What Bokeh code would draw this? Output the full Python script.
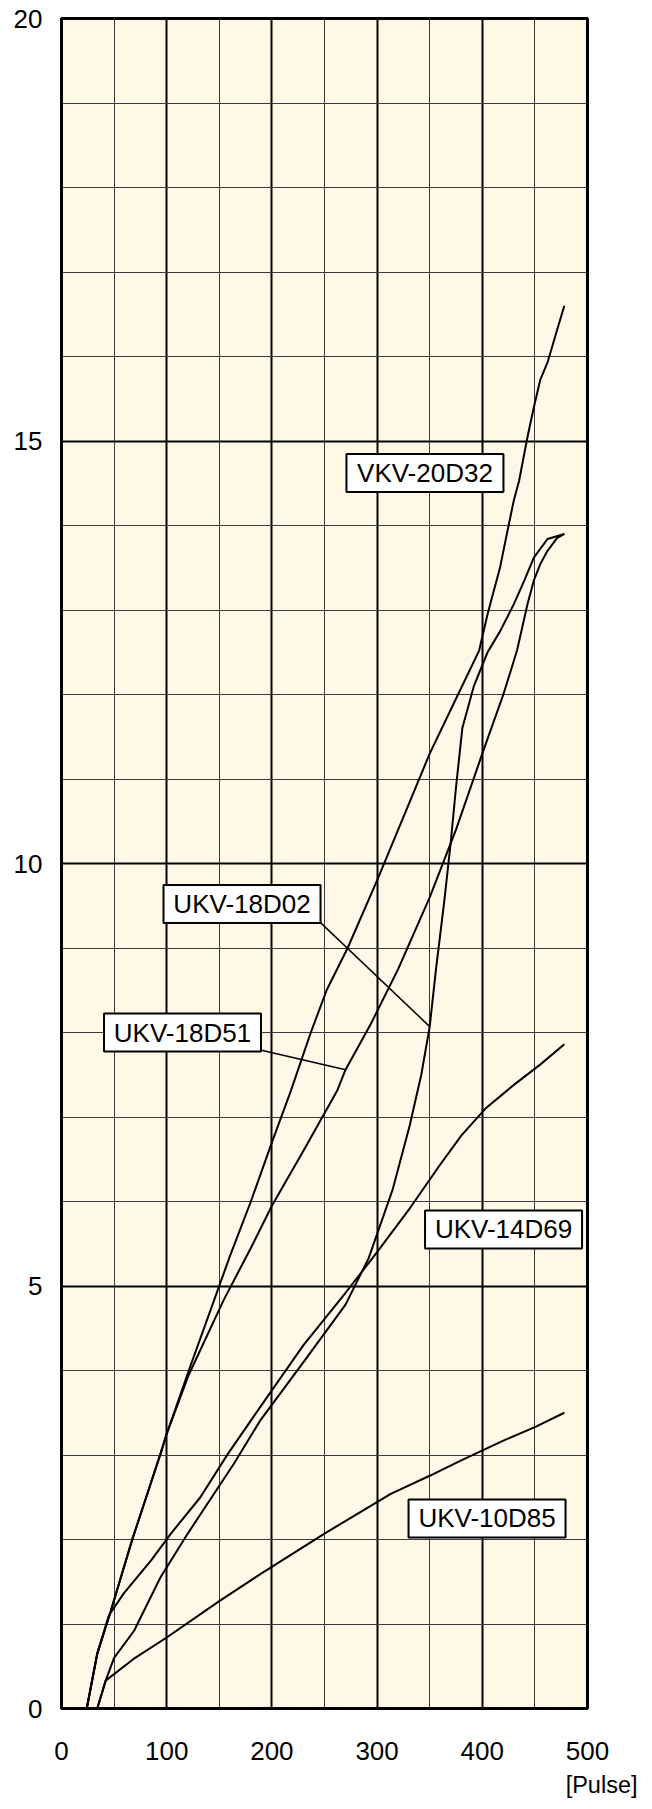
from bokeh.plotting import figure
from bokeh.models import Range1d, SingleIntervalTicker, Title
from bokeh.core.properties import value
from bokeh.embed import file_html
from bokeh.resources import INLINE

# ---- data ----
vkv_20d32_x = [24, 34, 47, 67, 94, 100, 121, 145, 160, 180, 200, 218, 237, 252, 272, 300, 325, 350, 375, 397, 405, 411, 417, 424, 430, 435, 443, 449, 455, 462, 471, 478]
vkv_20d32_y = [0, 0.65, 1.16, 1.99, 3.01, 3.25, 4.0, 4.83, 5.35, 6.0, 6.7, 7.31, 8.0, 8.5, 9.0, 9.8, 10.55, 11.3, 11.95, 12.52, 12.95, 13.23, 13.51, 13.94, 14.3, 14.53, 15.05, 15.4, 15.72, 15.93, 16.31, 16.6]

ukv_18d51_x = [24, 34, 47, 67, 94, 100, 121, 154, 180, 200, 230, 262, 270, 294, 320, 350, 375, 400, 420, 433, 443, 449, 455, 462, 471, 478]
ukv_18d51_y = [0, 0.65, 1.16, 1.99, 3.01, 3.25, 3.95, 4.83, 5.45, 5.95, 6.6, 7.31, 7.56, 8.1, 8.75, 9.6, 10.4, 11.3, 12.0, 12.52, 13.07, 13.35, 13.54, 13.7, 13.85, 13.9]

ukv_18d02_x = [34, 42, 50, 69, 94, 120, 164, 189, 230, 270, 292, 315, 331, 342, 350, 356, 364, 370, 375, 381, 392, 405, 417, 430, 440, 449, 462, 478]
ukv_18d02_y = [0, 0.33, 0.6, 0.92, 1.55, 2.07, 2.9, 3.41, 4.1, 4.78, 5.33, 6.15, 6.9, 7.5, 8.07, 8.75, 9.57, 10.25, 10.9, 11.6, 12.1, 12.5, 12.75, 13.07, 13.35, 13.62, 13.84, 13.9]

ukv_14d69_x = [24, 34, 45, 59, 85, 104, 132, 158, 189, 230, 270, 300, 330, 359, 380, 403, 430, 455, 478]
ukv_14d69_y = [0, 0.65, 1.1, 1.36, 1.75, 2.07, 2.5, 3.01, 3.57, 4.3, 4.92, 5.4, 5.9, 6.42, 6.78, 7.1, 7.38, 7.62, 7.86]

ukv_10d85_x = [34, 42, 70, 100, 150, 189, 250, 313, 351, 379, 420, 450, 478]
ukv_10d85_y = [0, 0.33, 0.6, 0.84, 1.27, 1.59, 2.07, 2.54, 2.76, 2.93, 3.17, 3.33, 3.5]

series = [
    ("VKV-20D32", vkv_20d32_x, vkv_20d32_y),
    ("UKV-18D51", ukv_18d51_x, ukv_18d51_y),
    ("UKV-18D02", ukv_18d02_x, ukv_18d02_y),
    ("UKV-14D69", ukv_14d69_x, ukv_14d69_y),
    ("UKV-10D85", ukv_10d85_x, ukv_10d85_y),
]

x_ticks = [0, 100, 200, 300, 400, 500]
y_ticks = [0, 5, 10, 15, 20]
x_unit = "[Pulse]"

# label annotations: (text, box centre x, box centre y, leader start, leader end)
labels = [
    ("VKV-20D32", 345.5, 14.62, None, None),
    ("UKV-18D02", 171.6, 9.52, (246.2, 9.3), (350, 8.07)),
    ("UKV-18D51", 115.0, 8.0, (190.1, 7.79), (270, 7.56)),
    ("UKV-14D69", 420.2, 5.67, None, None),
    ("UKV-10D85", 404.5, 2.25, None, None),
]

FONT = "Liberation Sans"

p = figure(width=652, height=1809,
           x_range=Range1d(0, 500), y_range=Range1d(0, 20),
           output_backend="svg", toolbar_location=None,
           min_border_left=61, min_border_right=65,
           min_border_top=18, min_border_bottom=101,
           background_fill_color="#FFF8E7", border_fill_color="white")

p.xaxis.ticker = x_ticks
p.yaxis.ticker = y_ticks
for ax in (p.xaxis, p.yaxis):
    ax.axis_line_width = 3
    ax.axis_line_color = "black"
    ax.major_tick_in = 0
    ax.major_tick_out = 0
    ax.minor_tick_in = 0
    ax.minor_tick_out = 0
    ax.major_label_text_font = FONT
    ax.major_label_text_font_size = "26px"
    ax.major_label_text_color = "black"
p.xaxis.major_label_standoff = 33
p.yaxis.major_label_standoff = 19

p.xgrid.ticker = SingleIntervalTicker(interval=100, num_minor_ticks=2)
p.ygrid.ticker = SingleIntervalTicker(interval=5, num_minor_ticks=5)
for g in (p.xgrid, p.ygrid):
    g.grid_line_color = "black"
    g.grid_line_width = 2
    g.minor_grid_line_color = "#3a3a3a"
    g.minor_grid_line_width = 1

p.outline_line_color = "black"
p.outline_line_width = 3

for name, xs, ys in series:
    p.line(xs, ys, line_color="black", line_width=2)

for text, cx, cy, a, b in labels:
    if a is not None:
        p.line([a[0], b[0]], [a[1], b[1]], line_color="black", line_width=1.5)
for text, cx, cy, a, b in labels:
    p.rect(x=[cx], y=[cy], width=157, height=38, width_units="screen", height_units="screen",
           fill_color="white", line_color="black", line_width=2)
    p.text(x=[cx], y=[cy], text=[text], text_align="center", text_baseline="middle",
           text_font=value(FONT), text_font_size="26px", text_color="black")

p.add_layout(Title(text=x_unit, align="right", offset=-50, vertical_align="bottom", standoff=15,
                   text_font=FONT, text_font_size="23.5px", text_font_style="normal",
                   text_color="black"), "below")

open("out.html", "w").write(file_html(p, INLINE))
